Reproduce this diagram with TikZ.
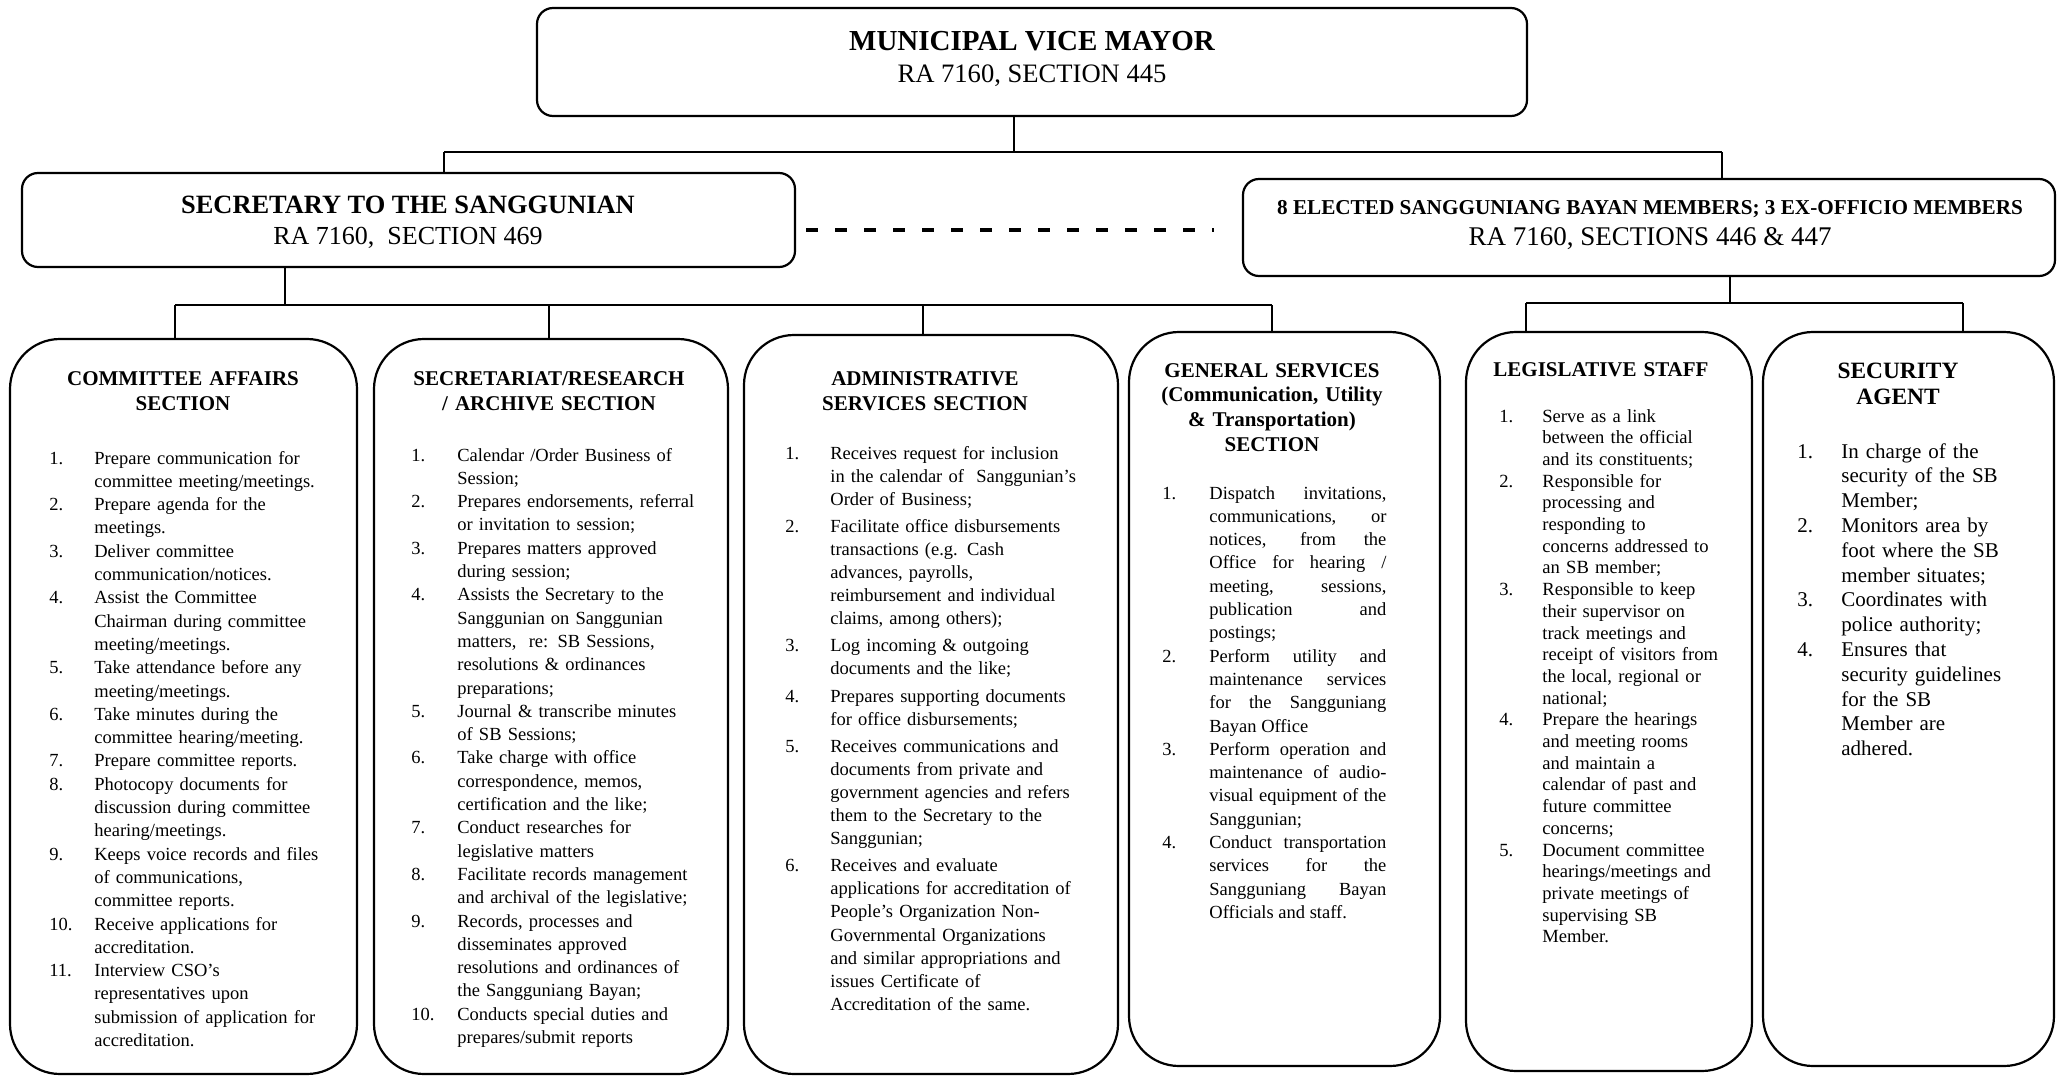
\documentclass[tikz,border=0pt]{standalone}
\usepackage{fontspec}
\setmainfont{Liberation Serif}
\newlength{\numw}
\newcommand{\itm}[2]{\hangindent=\numw\hangafter=1\noindent\makebox[\numw][l]{#1}#2\par}
\tikzset{
  topbox/.style={draw, line width=1.1pt, rounded corners=8pt, inner sep=0pt},
  secbox/.style={draw, line width=1.1pt, rounded corners=25pt, inner sep=0pt},
  conn/.style={line width=1.2pt},
  dashconn/.style={line width=2pt, dash pattern=on 6pt off 8.5pt},
  txt/.style={inner sep=0pt, anchor=base},
  head/.style={inner sep=0pt, anchor=base, align=center, font=\bfseries\fontsize{10.5}{12.5}\selectfont},
  lst/.style={inner sep=0pt, anchor=base west},
  body/.style={font=\fontsize{9.25}{11.65}\selectfont},
}
\newcommand{\bx}[6]{\node[#1, minimum width={(#5-#3)*0.5pt}, minimum height={(#6-#4)*0.5pt}] (#2) at ({(#3+#5)/2},{(#4+#6)/2}) {};}
\begin{document}
\begin{tikzpicture}[x=0.5pt,y=-0.5pt]
\useasboundingbox (0,0) rectangle (2058,1076);
% boxes
\bx{topbox}{vm}{537}{8}{1527}{116}
\bx{topbox}{sec}{22}{173}{795}{267}
\bx{topbox}{sbm}{1243}{179}{2055}{276}
\bx{secbox}{caf}{10}{339}{357}{1074}
\bx{secbox}{sra}{374}{339}{728}{1074}
\bx{secbox}{ads}{744}{335}{1118}{1074}
\bx{secbox}{gsv}{1129}{332}{1440}{1066}
\bx{secbox}{lst}{1466}{332}{1752}{1071}
\bx{secbox}{sag}{1763}{332}{2054}{1066}
% connectors
\coordinate (j0) at (1014,152);
\coordinate (jL) at (444,152);
\coordinate (jR) at (1722,152);
\draw[conn] (vm.south -| j0) -- (j0);
\draw[conn] (jL) -- (jR);
\draw[conn] (jL) -- (jL |- sec.north);
\draw[conn] (jR) -- (jR |- sbm.north);
\coordinate (d1) at (806,230);
\coordinate (d2) at (1214,230);
\draw[dashconn] (d1) -- (d2);
\coordinate (s0) at (285,305);
\coordinate (b1) at (175,305);
\coordinate (b2) at (549,305);
\coordinate (b3) at (923,305);
\coordinate (b4) at (1272,305);
\draw[conn] (sec.south -| s0) -- (s0);
\draw[conn] (b1) -- (b4);
\draw[conn] (b1) -- (b1 |- caf.north);
\draw[conn] (b2) -- (b2 |- sra.north);
\draw[conn] (b3) -- (b3 |- ads.north);
\draw[conn] (b4) -- (b4 |- gsv.north);
\coordinate (r0) at (1730,303);
\coordinate (r1) at (1526,303);
\coordinate (r2) at (1963,303);
\draw[conn] (sbm.south -| r0) -- (r0);
\draw[conn] (r1) -- (r2);
\draw[conn] (r1) -- (r1 |- lst.north);
\draw[conn] (r2) -- (r2 |- sag.north);
% top texts
\node[txt, font=\bfseries\fontsize{14.5}{16}\selectfont] (vmt) at (1032,50) {MUNICIPAL VICE MAYOR};
\node[txt, font=\fontsize{13.3}{16}\selectfont] (vms) at (1032,82) {RA 7160, SECTION 445};
\node[txt, font=\bfseries\fontsize{13.2}{16}\selectfont] (sect) at (408,213.5) {SECRETARY TO THE SANGGUNIAN};
\node[txt, font=\fontsize{13}{16}\selectfont] (secs) at (408,244.6) {RA 7160,\ \ SECTION 469};
\node[txt, font=\bfseries\fontsize{10.6}{14}\selectfont] (sbmt) at (1650,214) {8 ELECTED SANGGUNIANG BAYAN MEMBERS; 3 EX-OFFICIO MEMBERS};
\node[txt, font=\fontsize{13.5}{16}\selectfont] (sbms) at (1650,245) {RA 7160, SECTIONS 446 \& 447};
% headings
\node[head, text width=160pt] (h1) at (183,385) {COMMITTEE AFFAIRS\\SECTION};
\node[head, text width=170pt] (h2) at (549,385) {SECRETARIAT/RESEARCH\\/ ARCHIVE SECTION};
\node[head, text width=170pt] (h3) at (925,385) {ADMINISTRATIVE\\SERVICES SECTION};
\node[head, text width=140pt, font=\bfseries\fontsize{10.5}{12.35}\selectfont] (h4) at (1272,377) {GENERAL SERVICES\\(Communication, Utility\\\& Transportation)\\SECTION};
\node[head, text width=140pt] (h5) at (1601,376) {LEGISLATIVE STAFF};
\node[head, text width=140pt, font=\bfseries\fontsize{11.7}{13}\selectfont] (h6) at (1898,378) {SECURITY\\AGENT};
% lists
\node[lst, body, text width=150pt] (l1) at (49,464) {\raggedright\setlength{\numw}{22.5pt}%
\itm{1.}{Prepare communication for\newline committee meeting/meetings.}
\itm{2.}{Prepare agenda for the\newline meetings.}
\itm{3.}{Deliver committee\newline communication/notices.}
\itm{4.}{Assist the Committee\newline Chairman during committee\newline meeting/meetings.}
\itm{5.}{Take attendance before any\newline meeting/meetings.}
\itm{6.}{Take minutes during the\newline committee hearing/meeting.}
\itm{7.}{Prepare committee reports.}
\itm{8.}{Photocopy documents for\newline discussion during committee\newline hearing/meetings.}
\itm{9.}{Keeps voice records and files\newline of communications,\newline committee reports.}
\itm{10.}{Receive applications for\newline accreditation.}
\itm{11.}{Interview CSO’s\newline representatives upon\newline submission of application for\newline accreditation.}};
\node[lst, body, text width=157pt] (l2) at (411,461) {\raggedright\setlength{\numw}{23pt}%
\itm{1.}{Calendar /Order Business of\newline Session;}
\itm{2.}{Prepares endorsements, referral\newline or invitation to session;}
\itm{3.}{Prepares matters approved\newline during session;}
\itm{4.}{Assists the Secretary to the\newline Sanggunian on Sanggunian\newline matters,\ \ re: SB Sessions,\newline resolutions \& ordinances\newline preparations;}
\itm{5.}{Journal \& transcribe minutes\newline of SB Sessions;}
\itm{6.}{Take charge with office\newline correspondence, memos,\newline certification and the like;}
\itm{7.}{Conduct researches for\newline legislative matters}
\itm{8.}{Facilitate records management\newline and archival of the legislative;}
\itm{9.}{Records, processes and\newline disseminates approved\newline resolutions and ordinances of\newline the Sangguniang Bayan;}
\itm{10.}{Conducts special duties and\newline prepares/submit reports}};
\node[lst, text width=165pt, font=\fontsize{9.25}{11.55}\selectfont] (l3) at (785,459) {\raggedright\setlength{\numw}{22.5pt}\setlength{\parskip}{2pt}%
\itm{1.}{Receives request for inclusion\newline in the calendar of\ \ Sanggunian’s\newline Order of Business;}
\itm{2.}{Facilitate office disbursements\newline transactions (e.g. Cash\newline advances, payrolls,\newline reimbursement and individual\newline claims, among others);}
\itm{3.}{Log incoming \& outgoing\newline documents and the like;}
\itm{4.}{Prepares supporting documents\newline for office disbursements;}
\itm{5.}{Receives communications and\newline documents from private and\newline government agencies and refers\newline them to the Secretary to the\newline Sanggunian;}
\itm{6.}{Receives and evaluate\newline applications for accreditation of\newline People’s Organization Non-\newline Governmental Organizations\newline and similar appropriations and\newline issues Certificate of\newline Accreditation of the same.}};
\node[lst, body, align=justify, text width=112pt] (l4) at (1162,499) {\tolerance=10000\hyphenpenalty=10000\emergencystretch=10pt\setlength{\numw}{23.5pt}%
\itm{1.}{Dispatch invitations,\linebreak communications, or\linebreak notices, from the\linebreak Office for hearing /\linebreak meeting, sessions,\linebreak publication and\linebreak postings;}
\itm{2.}{Perform utility and\linebreak maintenance services\linebreak for the Sangguniang\linebreak Bayan Office}
\itm{3.}{Perform operation and\linebreak maintenance of audio-\linebreak visual equipment of the\linebreak Sanggunian;}
\itm{4.}{Conduct transportation\linebreak services for the\linebreak Sangguniang Bayan\linebreak Officials and staff.}};
\node[lst, text width=124pt, font=\fontsize{9.3}{10.85}\selectfont] (l5) at (1499,422) {\raggedright\setlength{\numw}{21.5pt}%
\itm{1.}{Serve as a link\newline between the official\newline and its constituents;}
\itm{2.}{Responsible for\newline processing and\newline responding to\newline concerns addressed to\newline an SB member;}
\itm{3.}{Responsible to keep\newline their supervisor on\newline track meetings and\newline receipt of visitors from\newline the local, regional or\newline national;}
\itm{4.}{Prepare the hearings\newline and meeting rooms\newline and maintain a\newline calendar of past and\newline future committee\newline concerns;}
\itm{5.}{Document committee\newline hearings/meetings and\newline private meetings of\newline supervising SB\newline Member.}};
\node[lst, text width=126pt, font=\fontsize{10.5}{12.4}\selectfont] (l6) at (1797,458) {\raggedright\setlength{\numw}{22pt}%
\itm{1.}{In charge of the\newline security of the SB\newline Member;}
\itm{2.}{Monitors area by\newline foot where the SB\newline member situates;}
\itm{3.}{Coordinates with\newline police authority;}
\itm{4.}{Ensures that\newline security guidelines\newline for the SB\newline Member are\newline adhered.}};
\end{tikzpicture}
\end{document}
